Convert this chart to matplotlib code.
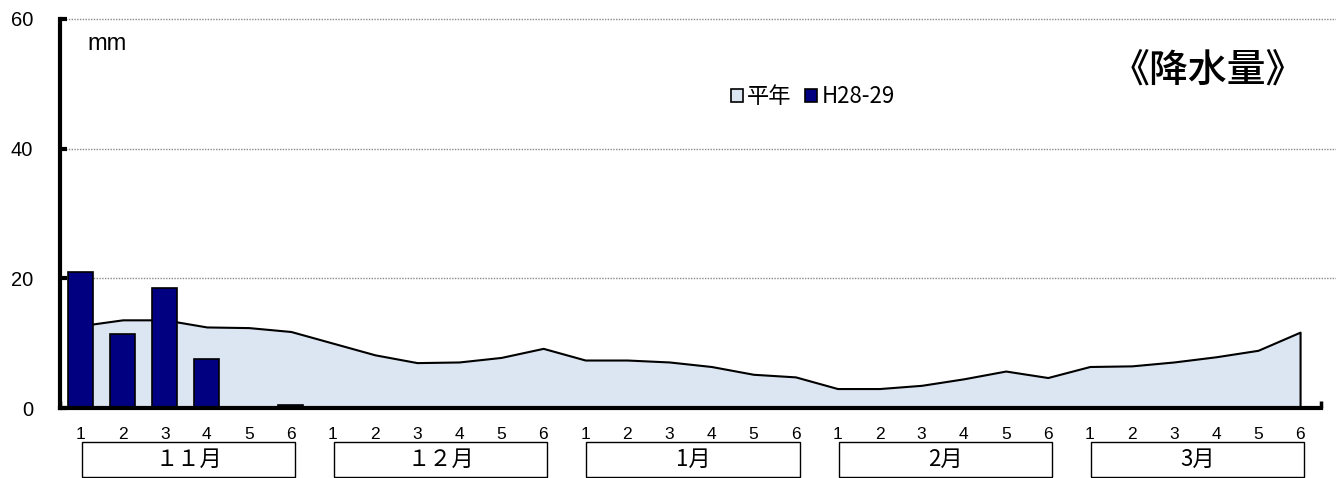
import matplotlib
matplotlib.use('Agg')
import numpy as np
import matplotlib.pyplot as plt
from matplotlib.patches import Rectangle, Patch
import matplotlib.transforms as mtransforms

# 半旬 labels (1-6 per month), months Nov - Mar
months = ['１１月', '１２月', '1月', '2月', '3月']
sub_labels = ['1', '2', '3', '4', '5', '6']

# 平年 (normal) precipitation, mm
normal = [12.7, 13.6, 13.6, 12.5, 12.4, 11.8,
          10.0, 8.2, 7.0, 7.1, 7.8, 9.2,
          7.4, 7.4, 7.1, 6.4, 5.2, 4.8,
          3.0, 3.0, 3.5, 4.5, 5.7, 4.7,
          6.4, 6.5, 7.1, 7.9, 8.9, 11.7]

# H28-29 precipitation, mm
this_year = [21.0, 11.4, 18.5, 7.5, 0.0, 0.4,
             0, 0, 0, 0, 0, 0,
             0, 0, 0, 0, 0, 0,
             0, 0, 0, 0, 0, 0,
             0, 0, 0, 0, 0, 0]

CJK = ['Noto Sans CJK JP', 'DejaVu Sans']
LAT = ['Liberation Sans', 'DejaVu Sans']

fig = plt.figure(figsize=(13.36, 4.78), dpi=100)
ax = fig.add_axes([59.6 / 1336, 70 / 478, 1261.5 / 1336, 389 / 478])

x = np.arange(len(normal))
area_color = '#dce6f2'
bar_color = '#000080'

ax.fill_between(x, normal, 0, facecolor=area_color, edgecolor='black',
                linewidth=1.5, zorder=2)
ax.bar(x, this_year, width=0.6, color=bar_color, edgecolor='black',
       linewidth=1.2, zorder=3)

ax.set_xlim(-0.5, len(normal) - 0.5)
ax.set_ylim(0, 60)

# grid lines run past the axis to the right edge
for gy in [20, 40, 60]:
    ax.axhline(gy, xmin=0, xmax=1276.4 / 1261.5, color='#888888',
               linestyle=(0, (1, 1)), linewidth=1.0, clip_on=False, zorder=1)

for s in ['top', 'right']:
    ax.spines[s].set_visible(False)
ax.spines['left'].set_linewidth(3)
ax.spines['bottom'].set_linewidth(3)
ax.spines['left'].set_zorder(5)
ax.spines['bottom'].set_zorder(5)

ax.set_yticks([0, 20, 40, 60])
ax.set_yticklabels(['0', '20', '40', '60'], fontsize=14.5, family=LAT)
ax.tick_params(axis='y', direction='in', length=5, width=3, pad=19)

ax.set_xticks(x)
ax.set_xticklabels(sub_labels * len(months), fontsize=12.5, family=LAT)
ax.set_xticks(np.arange(len(normal) + 1) - 0.5, minor=True)
ax.tick_params(axis='x', which='major', length=0, pad=14)
ax.tick_params(axis='x', which='minor', direction='in', length=5, width=2.5)

# month boxes under the tick labels
trans = mtransforms.blended_transform_factory(ax.transData, ax.transAxes)
for i, m in enumerate(months):
    x0 = i * 6 + 0.03
    x1 = i * 6 + 5.1
    rect = Rectangle((x0, -0.177), x1 - x0, 0.09, transform=trans,
                     facecolor='white', edgecolor='black', linewidth=1.0,
                     clip_on=False)
    ax.add_patch(rect)
    ax.text((x0 + x1) / 2, -0.132, m, transform=trans, ha='center',
            va='center', fontsize=16, family=CJK)

ax.text(0.022, 0.935, 'mm', transform=ax.transAxes, fontsize=17,
        family=LAT, va='center', ha='left')
ax.text(0.910, 0.865, '《降水量》', transform=ax.transAxes, fontsize=28,
        family=CJK, va='center', ha='center', fontweight='medium')

handles = [Patch(facecolor=area_color, edgecolor='black', linewidth=1.2),
           Patch(facecolor=bar_color, edgecolor='black', linewidth=1.2)]
ax.legend(handles, ['平年', 'H28-29'], loc='center', bbox_to_anchor=(0.597, 0.80),
          ncol=2, frameon=False, handlelength=0.55, handleheight=0.55,
          handletextpad=0.2, columnspacing=0.6, borderaxespad=0,
          prop={'family': CJK, 'size': 16})

fig.savefig('out.png', dpi=100)
